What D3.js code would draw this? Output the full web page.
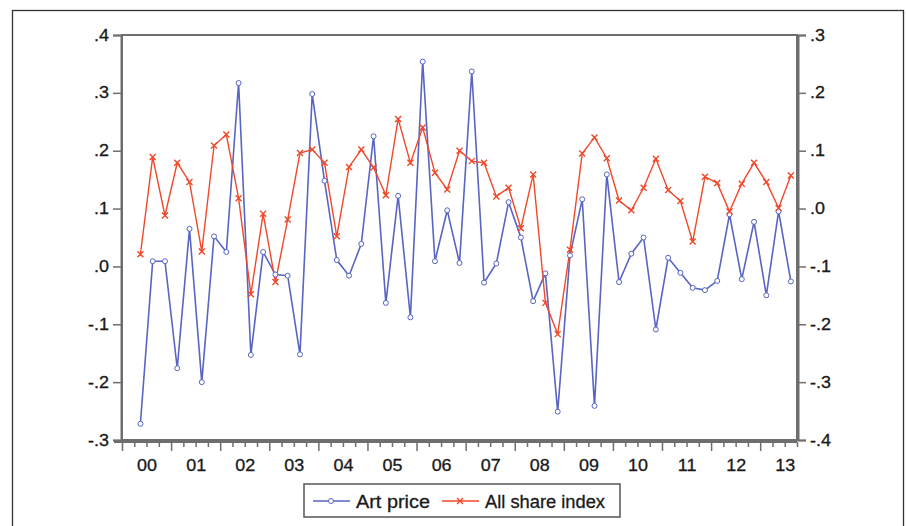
<!DOCTYPE html>
<html><head><meta charset="utf-8">
<script src="https://cdn.jsdelivr.net/npm/d3@7"></script>
<style>body{margin:0;background:#fff}svg{display:block}</style>
</head><body>
<script>
// Quarterly observations 2000Q2 .. 2013Q3
const startYear = 2000, startQuarter = 2;
const artPrice = [-0.272,0.009,0.009,-0.176,0.065,-0.200,0.052,0.025,0.317,-0.153,0.025,-0.014,-0.016,-0.152,0.298,0.148,0.011,-0.016,0.039,0.225,-0.063,0.122,-0.088,0.354,0.009,0.097,0.006,0.337,-0.028,0.005,0.111,0.050,-0.060,-0.012,-0.251,0.019,0.116,-0.241,0.159,-0.027,0.022,0.050,-0.109,0.015,-0.011,-0.037,-0.041,-0.025,0.090,-0.022,0.077,-0.050,0.095,-0.026];
const allShare = [-0.079,0.089,-0.012,0.079,0.046,-0.074,0.109,0.128,0.018,-0.148,-0.009,-0.127,-0.019,0.096,0.102,0.079,-0.048,0.072,0.102,0.071,0.023,0.155,0.079,0.140,0.062,0.033,0.100,0.082,0.079,0.021,0.036,-0.034,0.059,-0.163,-0.217,-0.071,0.095,0.123,0.087,0.014,-0.003,0.036,0.086,0.032,0.013,-0.057,0.055,0.044,-0.005,0.043,0.079,0.046,0.001,0.057];
const yearLabels = ["00","01","02","03","04","05","06","07","08","09","10","11","12","13"];
const leftTicks = [0.4,0.3,0.2,0.1,0.0,-0.1,-0.2,-0.3];
const rightTicks = [0.3,0.2,0.1,0.0,-0.1,-0.2,-0.3,-0.4];
const seriesNames = ["Art price","All share index"];

const W=906,H=526;
const L=122,R=797,T=35,B=440;
const blue="#5865c2", red="#f0482a", axisCol="#6e6e6e", txt="#1a1a1a";
const nSlots = (startQuarter-1) + artPrice.length; // slots from 2000Q1
const svg=d3.select("body").append("svg").attr("width",W).attr("height",H);
// outer frame
svg.append("rect").attr("x",12.5).attr("y",10.5).attr("width",891).attr("height",530)
  .attr("fill","none").attr("stroke","#333").attr("stroke-width",1.3);

const x=d3.scaleLinear().domain([0,nSlots]).range([L,R]);
const yL=d3.scaleLinear().domain([-0.3,0.4]).range([B,T]);
const yR=d3.scaleLinear().domain([-0.4,0.3]).range([B,T]);
const fmt=v=>{const a=Math.round(Math.abs(v)*10);return (v<-1e-9?"-":"")+"."+a;};
const font="Liberation Sans, Arial, sans-serif";

// plot frame
svg.append("rect").attr("x",L).attr("y",T).attr("width",R-L).attr("height",B-T)
  .attr("fill","none").attr("stroke",axisCol).attr("stroke-width",2);

// left axis
const gl=svg.append("g").attr("transform",`translate(${L-1},0)`)
  .call(d3.axisLeft(yL).tickValues(leftTicks).tickFormat(fmt).tickSize(8).tickPadding(4));
// right axis
const gr=svg.append("g").attr("transform",`translate(${R+1},0)`)
  .call(d3.axisRight(yR).tickValues(rightTicks).tickFormat(fmt).tickSize(8).tickPadding(4));
// x axis: quarter ticks
const qTicks=d3.range(0,nSlots+1);
const gx=svg.append("g").attr("transform",`translate(0,${B+2})`)
  .call(d3.axisBottom(x).tickValues(qTicks).tickFormat("").tickSize(5));
gx.selectAll(".tick line").attr("y2",d=>d%4===0?9:5);
const gxl=svg.append("g").attr("transform",`translate(0,${B+2})`)
  .call(d3.axisBottom(x).tickValues(yearLabels.map((d,i)=>i*4+2)).tickFormat((d,i)=>yearLabels[i]).tickSize(0).tickPadding(18));
[gl,gr,gx,gxl].forEach(g=>{
  g.select(".domain").attr("stroke",axisCol).attr("stroke-width",2);
  g.selectAll(".tick line").attr("stroke",axisCol).attr("stroke-width",1.5);
  g.selectAll("text").attr("font-family",font).attr("font-size",16).attr("fill",txt)
    .attr("stroke",txt).attr("stroke-width",0.3)
    .each(function(){const w=this.getComputedTextLength();
      d3.select(this).attr("textLength",w*1.12).attr("lengthAdjust","spacingAndGlyphs");});
});
gxl.select(".domain").remove();
gx.select(".domain").attr("d",`M${L-8},0H${R}`);

const xi=i=>x(startQuarter-1+i+0.5);
// series
const lineA=d3.line().x((d,i)=>xi(i)).y(d=>yL(d));
const lineB=d3.line().x((d,i)=>xi(i)).y(d=>yR(d));
svg.append("path").attr("d",lineA(artPrice)).attr("fill","none").attr("stroke",blue).attr("stroke-width",1.6);
svg.append("path").attr("d",lineB(allShare)).attr("fill","none").attr("stroke",red).attr("stroke-width",1.4);
svg.append("g").selectAll("circle").data(artPrice).join("circle")
  .attr("cx",(d,i)=>xi(i)).attr("cy",d=>yL(d)).attr("r",2.5)
  .attr("fill","#fff").attr("stroke",blue).attr("stroke-width",1);
const cross=(g,cx,cy,s)=>g.append("path").attr("d",`M${cx-s},${cy-s}L${cx+s},${cy+s}M${cx-s},${cy+s}L${cx+s},${cy-s}`)
  .attr("stroke",red).attr("stroke-width",1.4);
const gc=svg.append("g");
allShare.forEach((d,i)=>cross(gc,xi(i),yR(d),3));

// legend
const lg=svg.append("g");
lg.append("rect").attr("x",304).attr("y",484).attr("width",316).attr("height",33)
  .attr("fill","#fff").attr("stroke","#555").attr("stroke-width",1.5);
lg.append("line").attr("x1",313).attr("x2",350).attr("y1",501).attr("y2",501).attr("stroke",blue).attr("stroke-width",1.5);
lg.append("circle").attr("cx",331).attr("cy",501).attr("r",2.5).attr("fill","#fff").attr("stroke",blue);
lg.append("text").attr("x",356).attr("y",507.5).text(seriesNames[0])
  .attr("font-family",font).attr("font-size",18).attr("fill",txt).attr("stroke",txt).attr("stroke-width",0.3)
  .attr("textLength",74).attr("lengthAdjust","spacingAndGlyphs");
lg.append("line").attr("x1",442).attr("x2",479).attr("y1",501).attr("y2",501).attr("stroke",red).attr("stroke-width",1.5);
cross(lg,460,501,3);
lg.append("text").attr("x",485).attr("y",507.5).text(seriesNames[1])
  .attr("font-family",font).attr("font-size",18).attr("fill",txt).attr("stroke",txt).attr("stroke-width",0.3)
  .attr("textLength",120).attr("lengthAdjust","spacingAndGlyphs");
</script>
</body></html>
